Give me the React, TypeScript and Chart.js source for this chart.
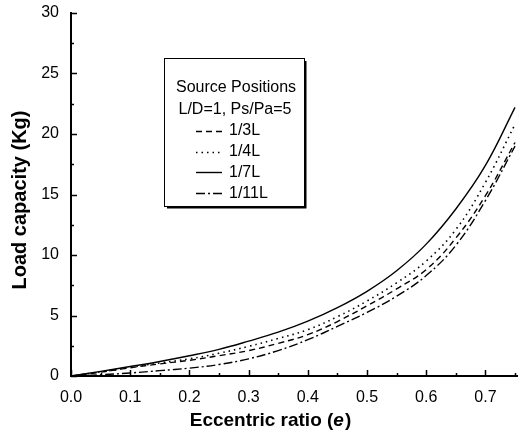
import React, { useEffect, useRef } from "react";
import { Chart, registerables } from "chart.js";

Chart.register(...registerables);

const eValues = [0, 0.05, 0.1, 0.15, 0.2, 0.25, 0.3, 0.35, 0.4, 0.45, 0.5, 0.55, 0.6, 0.65, 0.7, 0.75];
const load13L = [0, 0.32, 0.68, 1.0, 1.3, 1.68, 2.1, 2.7, 3.42, 4.5, 5.8, 7.2, 8.8, 11.4, 14.9, 19.3];
const load14L = [0, 0.34, 0.72, 1.08, 1.42, 1.88, 2.45, 3.1, 3.83, 4.9, 6.2, 7.7, 9.5, 12.1, 16.0, 20.8];
const load17L = [0, 0.38, 0.78, 1.2, 1.67, 2.2, 2.88, 3.62, 4.53, 5.65, 7.0, 8.7, 10.9, 13.8, 17.4, 22.2];
const load111L = [0, 0.1, 0.25, 0.44, 0.65, 0.95, 1.42, 2.1, 3.0, 4.1, 5.25, 6.6, 8.3, 10.8, 14.5, 19.0];

const seriesLabels = ["1/3L", "1/4L", "1/7L", "1/11L"];
const legendTitle = ["Source Positions", "L/D=1, Ps/Pa=5"];
const xTitle = "Eccentric ratio (";
const xTitleItalic = "e";
const yTitle = "Load capacity (Kg)";

const dashes: number[][] = [[6, 4], [1.5, 4], [], [9, 3, 2, 3]];

export default function App() {
  const ref = useRef<HTMLCanvasElement>(null);
  useEffect(() => {
    document.body.style.margin = "0";
    const font = "Arial, 'Liberation Sans', sans-serif";
    const series = [load13L, load14L, load17L, load111L];
    const decor = {
      id: "decor",
      afterDraw(chart: any) {
        const ctx = chart.ctx;
        const { left, bottom } = chart.chartArea;
        const xs = chart.scales.x;
        const ys = chart.scales.y;
        ctx.save();
        ctx.strokeStyle = "#000";
        ctx.lineWidth = 1.5;
        // inward ticks
        ctx.beginPath();
        for (let v = 0; v <= 30.001; v += 2.5) {
          const y = Math.round(ys.getPixelForValue(v)) + 0.5;
          const len = Math.abs(v / 5 - Math.round(v / 5)) < 1e-6 ? 6 : 3;
          ctx.moveTo(left, y);
          ctx.lineTo(left + len, y);
        }
        for (let v = 0; v <= 0.7501; v += 0.05) {
          const x = Math.round(xs.getPixelForValue(v)) + 0.5;
          const len = Math.abs(v / 0.1 - Math.round(v / 0.1)) < 1e-6 ? 6 : 3;
          ctx.moveTo(x, bottom);
          ctx.lineTo(x, bottom - len);
        }
        ctx.stroke();
        // x title
        ctx.fillStyle = "#000";
        ctx.textBaseline = "middle";
        const f1 = "bold 19px " + font;
        const f2 = "italic bold 19px " + font;
        ctx.font = f1;
        const w1 = ctx.measureText(xTitle).width;
        const w3 = ctx.measureText(")").width;
        ctx.font = f2;
        const w2 = ctx.measureText(xTitleItalic).width;
        let tx = 270 - (w1 + w2 + w3) / 2;
        const ty = 421;
        ctx.font = f1;
        ctx.textAlign = "left";
        ctx.fillText(xTitle, tx, ty);
        tx += w1;
        ctx.font = f2;
        ctx.fillText(xTitleItalic, tx, ty);
        tx += w2 + 1;
        ctx.font = f1;
        ctx.fillText(")", tx, ty);
        // y title
        ctx.save();
        ctx.translate(20, 200);
        ctx.rotate(-Math.PI / 2);
        ctx.textAlign = "center";
        ctx.font = "bold 20px " + font;
        ctx.fillText(yTitle, 0, 0);
        ctx.restore();
        // legend box
        const bx = 164, by = 58, bw = 140, bh = 148;
        ctx.fillStyle = "#fff";
        ctx.fillRect(bx, by, bw, bh);
        ctx.lineWidth = 1;
        ctx.strokeRect(bx + 0.5, by + 0.5, bw, bh);
        ctx.lineWidth = 2;
        ctx.beginPath();
        ctx.moveTo(bx + bw + 1.5, by + 3);
        ctx.lineTo(bx + bw + 1.5, by + bh + 1.5);
        ctx.lineTo(bx + 3, by + bh + 1.5);
        ctx.stroke();
        ctx.fillStyle = "#000";
        ctx.font = "16px " + font;
        ctx.textAlign = "center";
        ctx.fillText(legendTitle[0], bx + bw / 2 + 2, 88);
        ctx.fillText(legendTitle[1], bx + bw / 2 + 1, 110);
        ctx.textAlign = "left";
        seriesLabels.forEach((lab, i) => {
          const y = 131 + i * 20.7;
          ctx.beginPath();
          ctx.setLineDash(dashes[i]);
          ctx.lineWidth = i === 1 ? 1.5 : 1.4;
          ctx.moveTo(196, Math.round(y) + 0.5);
          ctx.lineTo(222, Math.round(y) + 0.5);
          ctx.stroke();
          ctx.setLineDash([]);
          ctx.fillText(lab, 229, y);
        });
        ctx.restore();
      },
    };
    const chart = new Chart(ref.current!, {
      type: "line",
      data: {
        datasets: series.map((s, i) => ({
          label: seriesLabels[i],
          data: eValues.map((e, j) => ({ x: e, y: s[j] })),
          borderColor: "#000",
          borderWidth: i === 1 ? 1.6 : 1.4,
          borderDash: dashes[i],
          pointRadius: 0,
          tension: 0.4,
          fill: false,
        })),
      },
      options: {
        responsive: false,
        animation: false,
        layout: { padding: { left: 1, right: 0, top: 13, bottom: 0 } },
        plugins: { legend: { display: false }, tooltip: { enabled: false } },
        scales: {
          x: {
            type: "linear",
            min: 0,
            max: 0.755,
            afterFit: (s: any) => { s.height = 60; s.paddingLeft = 0; s.paddingRight = 0; },
            grid: { display: false, drawTicks: false },
            border: { display: true, color: "#000", width: 2 },
            ticks: {
              stepSize: 0.1,
              includeBounds: false,
              padding: 12,
              color: "#000",
              font: { family: font, size: 16 },
              callback: (v: any) => Number(v).toFixed(1),
            },
          },
          y: {
            type: "linear",
            min: 0,
            max: 30,
            afterFit: (s: any) => { s.width = 70; s.paddingTop = 0; s.paddingBottom = 0; },
            grid: { display: false, drawTicks: false },
            border: { display: true, color: "#000", width: 2 },
            ticks: {
              stepSize: 5,
              padding: 12,
              color: "#000",
              font: { family: font, size: 16 },
            },
          },
        },
      },
      plugins: [decor],
    });
    return () => chart.destroy();
  }, []);
  return <canvas ref={ref} width={518} height={436} style={{ display: "block" }} />;
}
